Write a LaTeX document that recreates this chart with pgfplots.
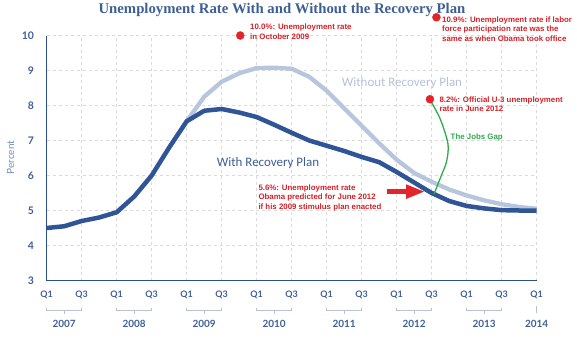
\documentclass[border=0pt]{standalone}
\usepackage{pgfplots}
\pgfplotsset{compat=1.18}
\usetikzlibrary{arrows.meta}
\usepackage{fontspec}
\setmainfont{Liberation Sans}
\newfontfamily\latof{Lato}
\newfontfamily\carl{Carlito}
\newfontfamily\tserif{Liberation Serif}
\definecolor{axisblue}{HTML}{2B4F8E}
\definecolor{tickblue}{HTML}{3F5F97}
\definecolor{gridgray}{HTML}{DADADA}
\definecolor{darkline}{HTML}{2F5597}
\definecolor{lightline}{HTML}{B7C6DD}
\definecolor{dotred}{HTML}{E3242B}
\definecolor{txtred}{HTML}{D42027}
\definecolor{jgreen}{HTML}{2DAA4B}
\definecolor{withtext}{HTML}{3D5C98}
\definecolor{withouttext}{HTML}{B3C2D9}
\definecolor{titleblue}{HTML}{3E5F93}
\definecolor{bracketgray}{HTML}{B8C2D0}
\definecolor{percentblue}{HTML}{6F8EC2}
\begin{document}
\begin{tikzpicture}[x=1bp,y=1bp]
\useasboundingbox (0,0) rectangle (577,338);
\begin{axis}[
  at={(46.7bp,57.5bp)}, anchor=south west,
  scale only axis, width=490bp, height=245bp,
  xmin=0, xmax=28, ymin=3, ymax=10,
  clip=false,
  axis x line*=bottom, axis y line*=left,
  axis line style={axisblue, line width=1.4bp},
  grid=major, grid style={dashed, gridgray, line width=0.5bp},
  major tick length=0,
  ytick={3,4,...,10},
  xtick={0,2,...,28},
  xticklabels={Q1,Q3,Q1,Q3,Q1,Q3,Q1,Q3,Q1,Q3,Q1,Q3,Q1,Q3,Q1},
  /pgf/number format/assume math mode=true,
  yticklabel style={anchor=east, inner sep=0pt, xshift=-12.5bp, text=tickblue, font=\latof\bfseries\fontsize{10.5}{11}\selectfont},
  xticklabel style={anchor=center, inner sep=0pt, yshift=-14.5bp, text=tickblue, font=\latof\bfseries\fontsize{9}{10}\selectfont},
]
% Without Recovery Plan
\addplot[lightline, line width=4.3bp, line join=round] coordinates {
(7,6.80) (8,7.55) (9,8.25) (10,8.68) (11,8.92) (12,9.07) (13,9.08) (14,9.05)
(15,8.82) (16,8.42) (17,7.92) (18,7.42) (19,6.92) (20,6.45) (21,6.07) (22,5.82)
(23,5.60) (24,5.43) (25,5.29) (26,5.18) (27,5.10) (28,5.05)};
% With Recovery Plan
\addplot[darkline, line width=4.5bp, line join=round] coordinates {
(0,4.50) (1,4.55) (2,4.70) (3,4.80) (4,4.95) (5,5.40) (6,6.00) (7,6.80)
(8,7.55) (9,7.85) (10,7.90) (11,7.80) (12,7.67) (13,7.45) (14,7.22) (15,7.00)
(16,6.85) (17,6.70) (18,6.53) (19,6.38) (20,6.10) (21,5.80) (22,5.50) (23,5.27)
(24,5.13) (25,5.06) (26,5.01) (27,5.00) (28,5.00)};
% jobs gap
\addplot[jgreen, line width=1.3bp, smooth] coordinates {
(21.95,8.12) (22.5,7.6) (22.93,6.9) (22.85,6.4) (22.55,6.0) (22.13,5.47)};
% arrow
\addplot[dotred, line width=5.5bp, -{Triangle[length=19bp, width=13bp]}] coordinates {(19.43,5.54) (21.62,5.54)};
% dots
\addplot[only marks, mark=*, mark size=4bp, dotred] coordinates {(11.06,10) (21.9,8.18) (22.27,10.52)};
\end{axis}
% title
\node[font=\tserif\bfseries\fontsize{14.8}{16}\selectfont, text=titleblue] at (282,338-9.5) {Unemployment Rate With and Without the Recovery Plan};
% y label
\node[rotate=90, font=\latof\fontsize{10}{11}\selectfont, text=percentblue] at (10.5,338-157.5) {Percent};
% curve labels
\node[anchor=west, inner sep=0pt, font=\carl\fontsize{13}{14}\selectfont, text=withouttext] at (341.7,338-82.7) {Without Recovery Plan};
\node[anchor=west, inner sep=0pt, font=\carl\fontsize{13}{14}\selectfont, text=withtext] at (216.7,338-162.7) {With Recovery Plan};
% annotations
\tikzset{redtxt/.style={anchor=north west, inner sep=0pt, align=left, text=txtred, font=\bfseries\fontsize{7.9}{9.4}\selectfont}}
\node[redtxt] at (250,338-24) {10.0\%: Unemployment rate\\in October 2009};
\node[redtxt] at (442,338-16.5) {10.9\%: Unemployment rate if labor\\force participation rate was the\\same as when Obama took office};
\node[redtxt] at (439.3,338-96.5) {8.2\%: Official U-3 unemployment\\rate in June 2012};
\node[redtxt] at (258.3,338-184.5) {5.6\%: Unemployment rate\\Obama predicted for June 2012\\if his 2009 stimulus plan enacted};
\node[anchor=north west, inner sep=0pt, text=jgreen, font=\bfseries\fontsize{7.9}{9.4}\selectfont] at (450.5,338-133.2) {The Jobs Gap};
% year brackets
\foreach \k/\yr in {0/2007,1/2008,2/2009,3/2010,4/2011,5/2012,6/2013} {
  \pgfmathsetmacro{\xa}{46.7+70*\k}
  \pgfmathsetmacro{\xb}{\xa+35}
  \pgfmathsetmacro{\xm}{\xa+17.5}
  \draw[bracketgray, line width=0.8bp] (\xa,338-307.5) -- (\xa,338-310) -- (\xb,338-310) -- (\xb,338-307.5);
  \draw[bracketgray, line width=0.8bp] (\xm,338-310) -- (\xm,338-314);
  \node[font=\latof\bfseries\fontsize{10}{11}\selectfont, text=tickblue] at (\xm,338-324) {\yr};
}
\draw[bracketgray, line width=0.8bp] (536.7,338-306) -- (536.7,338-313);
\node[font=\latof\bfseries\fontsize{10}{11}\selectfont, text=tickblue] at (536.7,338-324) {2014};
\end{tikzpicture}
\end{document}
